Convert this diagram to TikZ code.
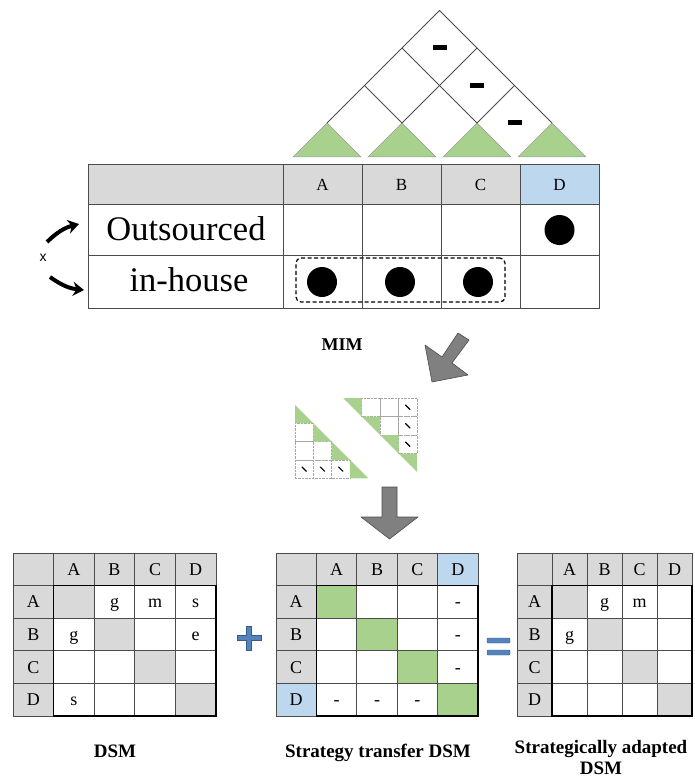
\documentclass[tikz,border=0pt]{standalone}
\usepackage{fontspec}
\setmainfont{Liberation Serif}
\newfontfamily\xfont{Liberation Sans}
\usepackage{tikz}
\usetikzlibrary{arrows.meta}

\definecolor{hdrgray}{RGB}{217,217,217}
\definecolor{leafgreen}{RGB}{169,209,142}
\definecolor{paleblue}{RGB}{189,215,238}
\definecolor{signblue}{RGB}{84,130,190}
\definecolor{arrowgray}{RGB}{128,128,128}

\begin{document}
\begin{tikzpicture}[x=1pt, y=-1pt, >=Stealth]
	\tikzstyle{rule} = [draw=black!70, line width=0.7pt]
	\tikzstyle{frame} = [draw=black, line width=1.5pt]
	\tikzstyle{roof} = [draw=black!70, line width=0.8pt]
	\tikzstyle{leaf} = [fill=leafgreen, draw=black!40, line width=0.5pt]
	\tikzstyle{dot} = [circle, fill=black, minimum size=30pt, inner sep=0pt]
	\tikzstyle{hdr} = [inner sep=0pt, text height=12pt, text depth=0pt, font=\fontsize{17}{17}\selectfont]
	\tikzstyle{cell} = [inner sep=0pt, text height=12pt, text depth=0pt, font=\fontsize{18}{18}\selectfont]
	\tikzstyle{rowname} = [inner sep=0pt, font=\fontsize{34.5}{34.5}\selectfont]
	\tikzstyle{caption} = [inner sep=0pt, anchor=base, align=center, font=\bfseries\fontsize{19}{21}\selectfont]
	\tikzstyle{blockarrow} = [fill=arrowgray, draw=black!70, line width=0.6pt, line join=round]
	\tikzstyle{sign} = [fill=signblue, draw=signblue!70!black, line width=0.4pt]
	\tikzstyle{tiny} = [draw=black!35, densely dotted, line width=0.4pt]
	\tikzstyle{tick} = [draw=black, line width=1.1pt, line cap=round]
	\tikzstyle{swoop} = [->, line width=4pt, >={Stealth[length=11pt, width=14pt]}]

	\useasboundingbox (0,0) rectangle (694,778);

	% roof over the MIM
	\foreach \c in {0,...,3}
		\path[leaf] (293+75*\c,157) -- (327+75*\c,123) -- (361+75*\c,157) -- cycle;
	\draw[roof] (327,123) -- (439.5,10.5) -- (552,123);
	\draw[roof] (364.5,85.5) -- (402,123) -- (477,48);
	\draw[roof] (402,48) -- (477,123) -- (514.5,85.5);
	\foreach \x/\y in {439.5/48, 477/85.5, 514.5/123}
		\fill (\x-7,\y-2.5) rectangle (\x+7,\y+2.5);

	% MIM table
	\fill[hdrgray] (88,165) rectangle (520,204);
	\fill[paleblue] (520,165) rectangle (599,204);
	\foreach \y in {204,255}
		\draw[rule] (88,\y) -- (599,\y);
	\foreach \x in {283,362,441,520}
		\draw[rule] (\x,165) -- (\x,308);
	\draw[rule, line width=1pt] (88,165) rectangle (599,308);

	\foreach \l/\x in {A/322.5, B/401.5, C/480.5, D/559.5}
		\node[hdr] (mim-\l) at (\x,184.5) {\l};
	\node[rowname] (out) at (186,229) {Outsourced};
	\node[rowname] (in) at (189,280) {in-house};

	\node[dot] (dot-D) at (559.5,230) {};
	\node[dot] (dot-A) at (322,282) {};
	\node[dot] (dot-B) at (400,282) {};
	\node[dot] (dot-C) at (478,282) {};
	\node[draw, dashed, dash pattern=on 4pt off 2.5pt, line width=1.2pt, rounded corners=5pt,
		minimum width=209pt, minimum height=44pt] (group) at (400.5,280) {};

	% swap between the two rows
	\node[inner sep=0pt, font=\xfont\fontsize{14}{14}\selectfont] (x) at (43,258) {x};
	\coordinate (up-s) at (47,242);
	\coordinate (up-e) at (79,224);
	\coordinate (dn-s) at (50,277);
	\coordinate (dn-e) at (84,290);
	\draw[swoop] (up-s) to[bend left=15] (up-e);
	\draw[swoop] (dn-s) to[bend right=15] (dn-e);

	\node[inner sep=0pt, font=\bfseries\fontsize{18}{18}\selectfont] (mim) at (342,345) {MIM};

	% arrows
	\draw[blockarrow] (458,333) -- (469,340) -- (452,363) -- (468,375) -- (432,382) -- (425,345) -- (442,357) -- cycle;
	\draw[blockarrow] (382,487) -- (397,487) -- (397,517) -- (418,517) -- (389.5,539) -- (361,517) -- (382,517) -- cycle;

	% small triangular icons
	\begin{scope}[shift={(295,405)}, x=18.33pt, y=-18.33pt]
		\foreach \c/\r in {1/2, 1/3, 2/3, 1/4, 2/4, 3/4}
			\draw[tiny] (\c-1,\r-1) rectangle (\c,\r);
		\foreach \i in {1,...,4}
			\fill[leafgreen] (\i-1,\i-1) -- (\i-1,\i) -- (\i,\i) -- cycle;
		\foreach \c in {1,2,3}
			\draw[tick] (\c-0.62,3.38) -- (\c-0.38,3.62);
	\end{scope}
	\begin{scope}[shift={(343,398)}, x=18.5pt, y=-18.5pt]
		\foreach \c/\r in {2/1, 3/1, 4/1, 3/2, 4/2, 4/3}
			\draw[tiny] (\c-1,\r-1) rectangle (\c,\r);
		\foreach \i in {1,...,4}
			\fill[leafgreen] (\i-1,\i-1) -- (\i,\i-1) -- (\i,\i) -- cycle;
		\foreach \r in {1,2,3}
			\draw[tick] (3.38,\r-0.62) -- (3.62,\r-0.38);
	\end{scope}

	% DSM
	\begin{scope}[shift={(13,553)}, x=40.6pt, y=-32.6pt]
		\fill[hdrgray] (0,0) rectangle (5,1);
		\fill[hdrgray] (0,1) rectangle (1,5);
		\foreach \i in {1,...,4}
			\fill[hdrgray] (\i,\i) rectangle (\i+1,\i+1);
		\foreach \i in {1,...,4} {
			\draw[rule] (\i,0) -- (\i,5);
			\draw[rule] (0,\i) -- (5,\i);
		}
		\draw[rule] (0,0) rectangle (5,5);
		\draw[frame] (1,1) rectangle (5,5);
		\foreach \l [count=\i] in {A,B,C,D} {
			\node[cell] (dsm-c\l) at (\i+0.5,0.5) {\l};
			\node[cell] (dsm-r\l) at (0.5,\i+0.5) {\l};
		}
		\foreach \c/\r/\t in {2/1/g, 3/1/m, 4/1/s, 1/2/g, 4/2/e, 1/4/s}
			\node[cell] (dsm-\c\r) at (\c+0.5,\r+0.5) {\t};
	\end{scope}

	% strategy transfer DSM
	\begin{scope}[shift={(276,553)}, x=40.4pt, y=-32.6pt]
		\fill[hdrgray] (0,0) rectangle (4,1);
		\fill[hdrgray] (0,1) rectangle (1,4);
		\fill[paleblue] (4,0) rectangle (5,1);
		\fill[paleblue] (0,4) rectangle (1,5);
		\foreach \i in {1,...,4}
			\fill[leafgreen] (\i,\i) rectangle (\i+1,\i+1);
		\foreach \i in {1,...,4} {
			\draw[rule] (\i,0) -- (\i,5);
			\draw[rule] (0,\i) -- (5,\i);
		}
		\draw[rule] (0,0) rectangle (5,5);
		\draw[frame] (1,1) rectangle (5,5);
		\foreach \l [count=\i] in {A,B,C,D} {
			\node[cell] (st-c\l) at (\i+0.5,0.5) {\l};
			\node[cell] (st-r\l) at (0.5,\i+0.5) {\l};
		}
		\foreach \c/\r in {4/1, 4/2, 4/3, 1/4, 2/4, 3/4}
			\node[cell] (st-\c\r) at (\c+0.5,\r+0.5) {-};
	\end{scope}

	% strategically adapted DSM
	\begin{scope}[shift={(517,553)}, x=35pt, y=-32.6pt]
		\fill[hdrgray] (0,0) rectangle (5,1);
		\fill[hdrgray] (0,1) rectangle (1,5);
		\foreach \i in {1,...,4}
			\fill[hdrgray] (\i,\i) rectangle (\i+1,\i+1);
		\foreach \i in {1,...,4} {
			\draw[rule] (\i,0) -- (\i,5);
			\draw[rule] (0,\i) -- (5,\i);
		}
		\draw[rule] (0,0) rectangle (5,5);
		\draw[frame] (1,1) rectangle (5,5);
		\foreach \l [count=\i] in {A,B,C,D} {
			\node[cell] (ad-c\l) at (\i+0.5,0.5) {\l};
			\node[cell] (ad-r\l) at (0.5,\i+0.5) {\l};
		}
		\foreach \c/\r/\t in {2/1/g, 3/1/m, 1/2/g}
			\node[cell] (ad-\c\r) at (\c+0.5,\r+0.5) {\t};
	\end{scope}

	% plus and equals
	\path[sign] (237,635.5) -- (246.5,635.5) -- (246.5,626) -- (251.5,626) -- (251.5,635.5) -- (261,635.5)
		-- (261,640.5) -- (251.5,640.5) -- (251.5,650) -- (246.5,650) -- (246.5,640.5) -- (237,640.5) -- cycle;
	\path[sign, rounded corners=1pt] (487,638) rectangle (510,643);
	\path[sign, rounded corners=1pt] (487,650) rectangle (510,655);

	\node[caption] (cap-dsm) at (115,757) {DSM};
	\node[caption] (cap-st) at (378,757) {Strategy transfer DSM};
	\node[caption] (cap-ad) at (601,774) {Strategically adapted\\DSM};
\end{tikzpicture}
\end{document}
